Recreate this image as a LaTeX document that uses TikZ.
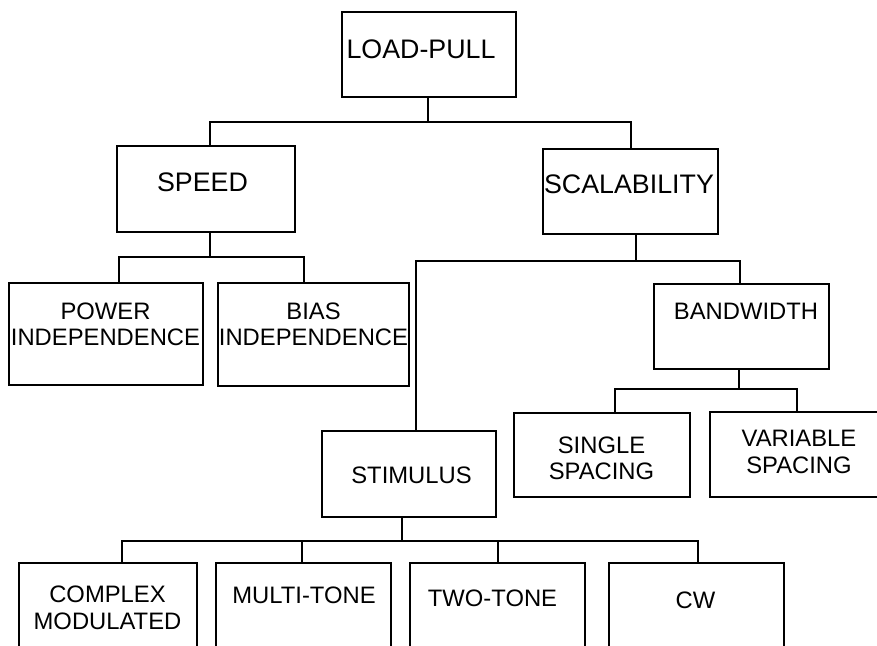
\documentclass[tikz,border=0pt]{standalone}
\usepackage{fontspec}
\setmainfont{Liberation Sans}
\begin{document}
\begin{tikzpicture}[x=1pt,y=-1pt,
  box/.style={draw=black,line width=1.8pt,rectangle,inner sep=0pt,minimum width=#1},
  big/.style={inner sep=0pt,align=center,font={\fontsize{26.8}{30}\selectfont}},
  lbl/.style={inner sep=0pt,align=center,font={\fontsize{23.8}{26.5}\selectfont}},
  wire/.style={line width=1.8pt,line cap=rect}]
\useasboundingbox (0,0) rectangle (877,645);
\clip (0,0) rectangle (877,645);
% boxes
\node[box=174pt,minimum height=85pt]  (lp)    at (429,54.5) {};
\node[box=178pt,minimum height=86pt]  (speed) at (206,189) {};
\node[box=175pt,minimum height=85pt]  (scal)  at (630.5,191.5) {};
\node[box=194pt,minimum height=102pt] (power) at (106,334) {};
\node[box=191pt,minimum height=103pt] (bias)  at (313.5,334.5) {};
\node[box=175pt,minimum height=85pt]  (band)  at (741.5,326.5) {};
\node[box=176pt,minimum height=84pt]  (single) at (602,455) {};
\node[box=185pt,minimum height=85pt]  (var)   at (802.5,454.5) {};
\node[box=174pt,minimum height=86pt]  (stim)  at (409,474) {};
\node[box=178pt,minimum height=117pt] (cplx)  at (108,621.5) {};
\node[box=175pt,minimum height=117pt] (multi) at (303.5,621.5) {};
\node[box=175pt,minimum height=117pt] (two)   at (497.5,621.5) {};
\node[box=175pt,minimum height=117pt] (cw)    at (696.5,621.5) {};
% texts
\node[big] (lpT) at (421,49) {LOAD-PULL};
\node[big] (speedT) at (202.5,182.5) {SPEED};
\node[big] (scalT) at (629,184) {SCALABILITY};
\node[lbl] (powerT) at (105.5,324.5) {POWER\\INDEPENDENCE};
\node[lbl] (biasT) at (313.5,324.5) {BIAS\\INDEPENDENCE};
\node[lbl] (bandT) at (746,311) {BANDWIDTH};
\node[lbl] (singleT) at (601.5,458.5) {SINGLE\\SPACING};
\node[lbl] (varT) at (799,452) {VARIABLE\\SPACING};
\node[lbl] (stimT) at (411.5,475) {STIMULUS};
\node[lbl] (cplxT) at (107.5,608) {COMPLEX\\MODULATED};
\node[lbl] (multiT) at (304,595) {MULTI-TONE};
\node[lbl] (twoT) at (492.5,598.5) {TWO-TONE};
\node[lbl] (cwT) at (695.5,600.5) {CW};
% bus coordinates
\coordinate (b0) at (428,122);
\coordinate (b0l) at (210,122);
\coordinate (b0r) at (631,122);
\coordinate (b1) at (210,257);
\coordinate (b1l) at (119,257);
\coordinate (b1r) at (304,257);
\coordinate (b2) at (636,261);
\coordinate (b2l) at (416,261);
\coordinate (b2r) at (740,261);
\coordinate (b3) at (739,389);
\coordinate (b3l) at (615,389);
\coordinate (b3r) at (797,389);
\coordinate (b4) at (402,541);
\coordinate (b4a) at (122,541);
\coordinate (b4b) at (302,541);
\coordinate (b4c) at (498,541);
\coordinate (b4d) at (698,541);
% connectors
\draw[wire] (lp.south -| b0) -- (b0);
\draw[wire] (speed.north -| b0l) -- (b0l) -- (b0r) -- (scal.north -| b0r);
\draw[wire] (speed.south -| b1) -- (b1);
\draw[wire] (power.north -| b1l) -- (b1l) -- (b1r) -- (bias.north -| b1r);
\draw[wire] (scal.south -| b2) -- (b2);
\draw[wire] (stim.north -| b2l) -- (b2l) -- (b2r) -- (band.north -| b2r);
\draw[wire] (band.south -| b3) -- (b3);
\draw[wire] (single.north -| b3l) -- (b3l) -- (b3r) -- (var.north -| b3r);
\draw[wire] (stim.south -| b4) -- (b4);
\draw[wire] (cplx.north -| b4a) -- (b4a) -- (b4d) -- (cw.north -| b4d);
\draw[wire] (b4b) -- (multi.north -| b4b);
\draw[wire] (b4c) -- (two.north -| b4c);
\end{tikzpicture}
\end{document}
